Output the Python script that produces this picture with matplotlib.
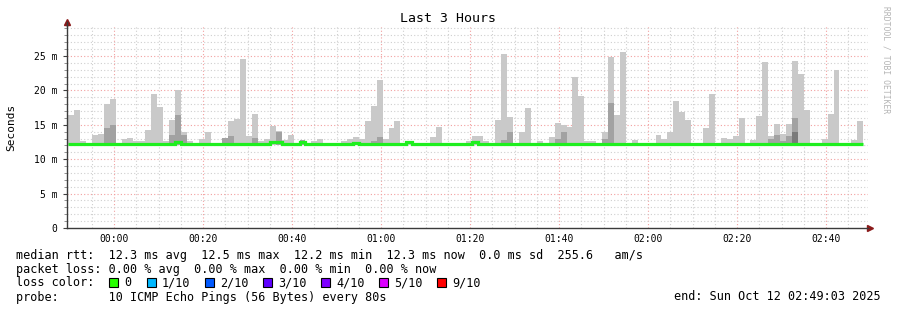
import matplotlib
matplotlib.use("Agg")
import matplotlib.pyplot as plt
from matplotlib.patches import Rectangle
import numpy as np

# smokeping "Last 3 Hours" graph, values in ms, one bar per 80 s step
step_min = 80 / 60.0
first_bar = -10.35          # minutes relative to 00:00
smoke_low = 12.0

smoke_top = [
    16.4, 17.2, 12.7, 12.4, 13.5, 13.7, 18.0, 18.75, 12.4, 12.9,
    13.1, 12.7, 12.7, 14.2, 19.5, 17.6, 12.7, 15.7, 20.0, 13.9,
    12.7, 12.4, 12.9, 14.0, 12.3, 12.3, 13.1, 15.5, 15.8, 24.6,
    13.4, 16.6, 12.7, 12.9, 14.8, 14.1, 12.8, 13.5, 12.4, 12.8,
    12.3, 12.7, 13.0, 12.3, 12.3, 12.3, 12.7, 12.9, 13.2, 13.0,
    15.5, 17.7, 21.5, 12.9, 14.6, 15.6, 12.3, 12.4, 12.3, 12.3,
    12.3, 13.2, 14.7, 12.3, 12.3, 12.3, 12.3, 12.7, 13.4, 13.4,
    12.7, 12.3, 15.7, 25.3, 16.1, 12.3, 13.9, 17.4, 12.3, 12.7,
    12.3, 13.2, 15.2, 14.9, 14.7, 22.0, 19.2, 12.7, 12.7, 12.3,
    14.0, 24.9, 16.4, 25.6, 12.3, 12.8, 12.3, 12.3, 12.4, 13.5,
    12.9, 14.0, 18.5, 16.9, 15.7, 12.3, 12.3, 14.6, 19.5, 12.3,
    13.1, 12.9, 13.4, 16.0, 12.3, 12.8, 16.3, 24.1, 13.4, 15.1,
    13.7, 15.1, 24.3, 22.4, 17.1, 12.3, 12.3, 12.9, 16.6, 23.0,
    12.3, 12.3, 12.8, 15.6,
]

# top of the denser (darker) part of the smoke, 0 = none
smoke_mid = [
    0, 0, 0, 0, 0, 0, 14.6, 14.9, 0, 0,
    0, 0, 0, 0, 0, 0, 0, 13.5, 16.4, 13.5,
    0, 0, 0, 0, 0, 0, 13.1, 13.3, 0, 0,
    0, 13.1, 0, 0, 0, 14.0, 0, 0, 0, 12.8,
    0, 0, 0, 0, 0, 0, 0, 0, 0, 0,
    0, 12.7, 13.2, 0, 0, 0, 0, 0, 0, 0,
    0, 0, 0, 0, 0, 0, 0, 0, 0, 0,
    0, 0, 0, 12.8, 13.9, 0, 0, 0, 0, 0,
    0, 0, 12.9, 13.9, 0, 0, 0, 0, 0, 0,
    13.0, 18.1, 0, 0, 0, 0, 0, 0, 0, 0,
    0, 0, 0, 0, 0, 0, 0, 0, 0, 0,
    0, 0, 0, 0, 0, 0, 0, 0, 12.9, 13.5,
    12.7, 13.4, 16.0, 0, 0, 0, 0, 0, 0, 0,
    0, 0, 0, 0,
]

smoke_dark = [0] * 122 + [14.0] + [0] * 11

median = [
    12.2, 12.2, 12.2, 12.2, 12.2, 12.2, 12.2, 12.2, 12.2, 12.2,
    12.2, 12.2, 12.2, 12.2, 12.2, 12.2, 12.2, 12.2, 12.5, 12.2,
    12.2, 12.2, 12.2, 12.2, 12.2, 12.2, 12.2, 12.2, 12.2, 12.2,
    12.2, 12.2, 12.2, 12.2, 12.45, 12.45, 12.2, 12.2, 12.2, 12.45,
    12.2, 12.2, 12.2, 12.2, 12.2, 12.2, 12.2, 12.2, 12.4, 12.2,
    12.2, 12.2, 12.2, 12.2, 12.2, 12.2, 12.2, 12.5, 12.2, 12.2,
    12.2, 12.2, 12.2, 12.2, 12.2, 12.2, 12.2, 12.2, 12.45, 12.2,
    12.2, 12.2, 12.2, 12.2, 12.2, 12.2, 12.2, 12.2, 12.2, 12.2,
    12.2, 12.2, 12.2, 12.2, 12.2, 12.2, 12.2, 12.2, 12.2, 12.2,
    12.2, 12.2, 12.2, 12.2, 12.2, 12.2, 12.2, 12.2, 12.2, 12.2,
    12.2, 12.2, 12.2, 12.2, 12.2, 12.2, 12.2, 12.2, 12.2, 12.2,
    12.2, 12.2, 12.2, 12.2, 12.2, 12.2, 12.2, 12.2, 12.2, 12.2,
    12.2, 12.2, 12.2, 12.2, 12.2, 12.2, 12.2, 12.2, 12.2, 12.2,
    12.2, 12.2, 12.2, 12.2,
]

xtick_min = [0, 20, 40, 60, 80, 100, 120, 140, 160]
xtick_labels = ["00:00", "00:20", "00:40", "01:00", "01:20",
                "01:40", "02:00", "02:20", "02:40"]
ytick_vals = [0, 5, 10, 15, 20, 25]
ytick_labels = ["0", "5 m", "10 m", "15 m", "20 m", "25 m"]

loss_labels = ["0", "1/10", "2/10", "3/10", "4/10", "5/10", "9/10"]
loss_colors = ["#26ff00", "#00b8ff", "#0059ff", "#5e00ff", "#7e00ff", "#dd00ff", "#ff0000"]
loss_x = [109, 147, 205, 263, 321, 379, 437]

W, H = 897, 310
mono = "DejaVu Sans Mono"

fig = plt.figure(figsize=(W / 100, H / 100), dpi=100)
fig.patch.set_facecolor("white")

def fx(x):
    return x / W

def fy(y):
    return 1 - y / H

ax = fig.add_axes([fx(67), fy(228), (868 - 67) / W, (228 - 26) / H])
ax.set_xlim(-10.6, 169.4)
ax.set_ylim(0, 29.36)

n = len(smoke_top)
edges = first_bar + np.arange(n + 1) * step_min
lefts = edges[:-1]
top = np.array(smoke_top)
mid = np.array(smoke_mid, dtype=float)
dark = np.array(smoke_dark, dtype=float)

ax.bar(lefts, top - smoke_low, width=step_min, bottom=smoke_low, align="edge",
       color="#c9c9c9", linewidth=0, zorder=2)
m = mid > 0
ax.bar(lefts[m], mid[m] - smoke_low, width=step_min, bottom=smoke_low, align="edge",
       color="#a2a2a2", linewidth=0, zorder=3)
d = dark > 0
ax.bar(lefts[d], dark[d] - smoke_low, width=step_min, bottom=smoke_low, align="edge",
       color="#7a7a7a", linewidth=0, zorder=4)
ax.stairs(median, edges, color="#1fef1f", linewidth=2.3, baseline=None, zorder=5)

# grid
dot = (0, (1, 2))
for v in np.arange(-5, 170, 5):
    if v % 20 == 0:
        continue
    ax.axvline(v, color="#cfcfcf", lw=0.8, ls=dot, zorder=1)
for v in xtick_min:
    ax.axvline(v, color="#f2a0a0", lw=0.8, ls=dot, zorder=1)
for v in range(1, 30):
    if v % 5 == 0:
        ax.axhline(v, color="#f2a0a0", lw=0.8, ls=dot, zorder=1)
    else:
        ax.axhline(v, color="#cfcfcf", lw=0.8, ls=dot, zorder=1)

ax.set_xticks(xtick_min)
ax.set_xticklabels(xtick_labels, family=mono, fontsize=7)
ax.set_yticks(ytick_vals)
ax.set_yticklabels(ytick_labels, family=mono, fontsize=7)
ax.set_yticks(np.arange(1, 30, 1), minor=True)
ax.tick_params(axis="y", which="major", length=3, width=0.8, color="#404040", pad=4)
ax.tick_params(axis="y", which="minor", length=2, width=0.6, color="#808080")
ax.tick_params(axis="x", which="major", length=0, pad=4)

for s in ["top", "right"]:
    ax.spines[s].set_visible(False)
for s in ["left", "bottom"]:
    ax.spines[s].set_color("#3a3a3a")
    ax.spines[s].set_linewidth(1.0)
ax.set_facecolor("white")

# axis arrows
ax.plot([0], [1.02], marker="^", color="#8b1a1a", markersize=4,
        transform=ax.transAxes, clip_on=False)
ax.plot([0, 0], [1.0, 1.02], color="#3a3a3a", lw=1.0, transform=ax.transAxes, clip_on=False)
ax.plot([1.0, 1.003], [0, 0], color="#3a3a3a", lw=1.0, transform=ax.transAxes, clip_on=False)
ax.plot([1.003], [0], marker=">", color="#8b1a1a", markersize=4,
        transform=ax.transAxes, clip_on=False)

# titles
fig.text(fx(448), fy(19), "Last 3 Hours", family=mono, fontsize=9.5,
         ha="center", va="center")
fig.text(fx(11), fy(127), "Seconds", family=mono, fontsize=8,
         ha="center", va="center", rotation=90)
fig.text(fx(886), fy(60), "RRDTOOL / TOBI OETIKER", family=mono, fontsize=5.8,
         ha="center", va="center", rotation=270, color="#b4b4b4")

# legend lines
lsize = 8.5
fig.text(fx(16), fy(255),
         "median rtt:  12.3 ms avg  12.5 ms max  12.2 ms min  12.3 ms now  0.0 ms sd  255.6   am/s",
         family=mono, fontsize=lsize, ha="left", va="center")
fig.text(fx(16), fy(269),
         "packet loss: 0.00 % avg  0.00 % max  0.00 % min  0.00 % now",
         family=mono, fontsize=lsize, ha="left", va="center")
fig.text(fx(16), fy(283), "loss color:", family=mono, fontsize=lsize,
         ha="left", va="center")
for lab, col, x in zip(loss_labels, loss_colors, loss_x):
    fig.patches.append(Rectangle((fx(x), fy(287)), 9 / W, 9 / H, facecolor=col,
                                 edgecolor="black", linewidth=0.8,
                                 transform=fig.transFigure, figure=fig))
    fig.text(fx(x + 15), fy(283), lab, family=mono, fontsize=lsize,
             ha="left", va="center")
fig.text(fx(16), fy(297), "probe:       10 ICMP Echo Pings (56 Bytes) every 80s",
         family=mono, fontsize=lsize, ha="left", va="center")
fig.text(fx(881), fy(297), "end: Sun Oct 12 02:49:03 2025",
         family=mono, fontsize=lsize, ha="right", va="center")

fig.savefig("out.png", dpi=100, facecolor="white")
